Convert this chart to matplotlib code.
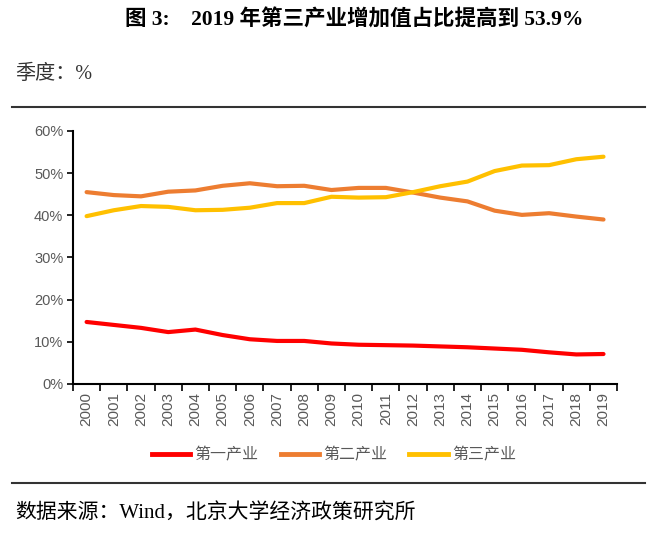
import matplotlib
matplotlib.use("Agg")
import matplotlib.pyplot as plt
from matplotlib.lines import Line2D
from matplotlib.ticker import FuncFormatter, FixedLocator

years = [str(y) for y in range(2000, 2020)]
primary = [14.7, 14.0, 13.3, 12.3, 12.9, 11.6, 10.6, 10.2, 10.2, 9.6,
           9.3, 9.2, 9.1, 8.9, 8.7, 8.4, 8.1, 7.5, 7.0, 7.1]
secondary = [45.5, 44.8, 44.5, 45.6, 45.9, 47.0, 47.6, 46.9, 47.0, 46.0,
             46.5, 46.5, 45.4, 44.2, 43.3, 41.1, 40.1, 40.5, 39.7, 39.0]
tertiary = [39.8, 41.2, 42.2, 42.0, 41.2, 41.3, 41.8, 42.9, 42.9, 44.4,
            44.2, 44.3, 45.5, 46.9, 48.0, 50.5, 51.8, 51.9, 53.3, 53.9]
series_names = ["第一产业", "第二产业", "第三产业"]
colors = ["#FF0000", "#ED7D31", "#FFC000"]

title = "图 3:    2019 年第三产业增加值占比提高到 53.9%"
unit_label = "季度：%"
source = "数据来源：Wind，北京大学经济政策研究所"

serif = ["Liberation Serif", "Noto Sans CJK SC"]
sans = ["Liberation Sans", "Noto Sans CJK SC"]
grey = "#595959"

fig = plt.figure(figsize=(6.6, 5.34), dpi=100)
ax = fig.add_axes([0.1106, 0.281, 0.8244, 0.4737])

x = list(range(len(years)))
for vals, name, c in zip([primary, secondary, tertiary], series_names, colors):
    ax.plot(x, vals, color=c, lw=3, label=name, solid_capstyle="round")

ax.set_xlim(-0.5, len(years) - 0.5)
ax.set_ylim(0, 60)
ax.yaxis.set_major_locator(FixedLocator([0, 10, 20, 30, 40, 50, 60]))
ax.yaxis.set_major_formatter(FuncFormatter(lambda v, p: f"{v:.0f}%"))

ax.set_xticks(x)
ax.set_xticklabels(years, rotation=90)
ax.set_xticks([i - 0.5 for i in range(len(years) + 1)], minor=True)
ax.tick_params(axis="x", which="major", length=0, pad=6, labelsize=11, labelcolor=grey)
ax.tick_params(axis="x", which="minor", length=5, width=1.2, direction="out", color="black")
ax.tick_params(axis="y", length=4, width=1.2, direction="out", labelsize=10.5,
               labelcolor=grey, pad=3)
for lbl in ax.get_xticklabels() + ax.get_yticklabels():
    lbl.set_family(sans)

for s in ["top", "right"]:
    ax.spines[s].set_visible(False)
for s in ["left", "bottom"]:
    ax.spines[s].set_color("black")
    ax.spines[s].set_linewidth(1.5)

handles = [Line2D([], [], color=c, lw=3.5) for c in colors]
leg = fig.legend(handles, series_names, loc="center", bbox_to_anchor=(0.506, 0.148),
                 ncol=3, frameon=False, handlelength=2.4, handletextpad=0.25,
                 columnspacing=1.4, prop={"family": sans, "size": 11.5})
for t in leg.get_texts():
    t.set_color(grey)

fig.text(0.536, 0.963, title, ha="center", va="center", fontsize=15.5,
         fontweight="bold", family=serif)
fig.text(0.023, 0.86, unit_label, ha="left", va="center", fontsize=14.5,
         family=serif, color="#333333")
fig.text(0.023, 0.039, source, ha="left", va="center", fontsize=15,
         family=serif, color="black")

fig.add_artist(Line2D([0.018, 0.977], [0.8, 0.8], color="#333333", lw=1.5))
fig.add_artist(Line2D([0.018, 0.977], [0.0955, 0.0955], color="#333333", lw=1.5))

fig.savefig("out.png", dpi=100)
